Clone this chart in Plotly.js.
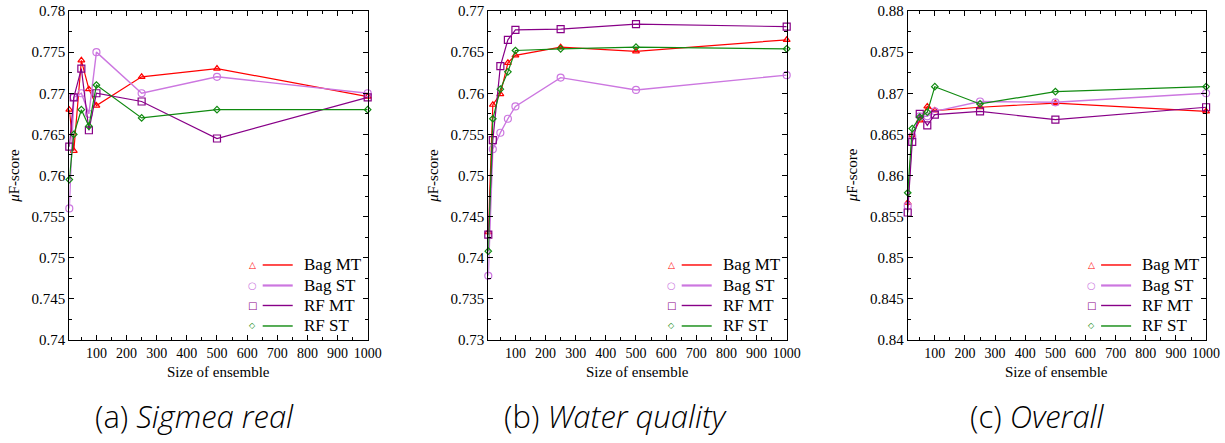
<!DOCTYPE html>
<html>
<head>
<meta charset="utf-8">
<script src="https://cdn.plot.ly/plotly-3.0.1.min.js"></script>
<style>html,body{margin:0;padding:0;background:#fff;}#chart{width:1225px;height:443px;}</style>
</head>
<body>
<div id="chart"></div>
<script>
// ---- data ----
const sizes = [10, 25, 50, 75, 100, 250, 500, 1000];
const seriesNames = ["Bag MT", "Bag ST", "RF MT", "RF ST"];

const sigmeaBagMT = [0.7680, 0.7630, 0.7740, 0.7705, 0.7685, 0.7720, 0.7730, 0.7696];
const sigmeaBagST = [0.7560, 0.7695, 0.7700, 0.7675, 0.7750, 0.7700, 0.7720, 0.7700];
const sigmeaRFMT  = [0.7635, 0.7695, 0.7730, 0.7655, 0.7700, 0.7690, 0.7645, 0.7695];
const sigmeaRFST  = [0.7595, 0.7650, 0.7680, 0.7660, 0.7710, 0.7670, 0.7680, 0.7680];

const waterBagMT = [0.7431, 0.7586, 0.7599, 0.7637, 0.7646, 0.7656, 0.7651, 0.7665];
const waterBagST = [0.7378, 0.7532, 0.7552, 0.7569, 0.7584, 0.7619, 0.7604, 0.7622];
const waterRFMT  = [0.7428, 0.7543, 0.7633, 0.7665, 0.7677, 0.7678, 0.7684, 0.7681];
const waterRFST  = [0.7408, 0.7569, 0.7605, 0.7626, 0.7652, 0.7654, 0.7656, 0.7654];

const overallBagMT = [0.8567, 0.8649, 0.8667, 0.8684, 0.8679, 0.8683, 0.8688, 0.8678];
const overallBagST = [0.8563, 0.8648, 0.8672, 0.8672, 0.8678, 0.8690, 0.8689, 0.8700];
const overallRFMT  = [0.8555, 0.8641, 0.8675, 0.8661, 0.8674, 0.8678, 0.8668, 0.8683];
const overallRFST  = [0.8579, 0.8657, 0.8671, 0.8677, 0.8708, 0.8687, 0.8702, 0.8708];

const yRanges = [[0.74, 0.78], [0.73, 0.77], [0.84, 0.88]];
const captions = ["(a) <i>Sigmea real</i>", "(b) <i>Water quality</i>", "(c) <i>Overall</i>"];
const xTitle = "Size of ensemble";
const yTitle = "<i>μ</i>F-score";

// ---- styles ----
const colors = ["#ff0000", "#cc77e0", "#880088", "#108a10"];
const symbols = ["triangle-up-open", "circle-open", "square-open", "diamond-open"];
const msizes = [6, 7, 7, 5];
const legendGlyphs = ["△", "○", "□", "◇"];
const legendGlyphSize = [9, 10, 10, 8];
const legendLineW = [1.4, 2.2, 1.4, 1.4];

const panels = [
  [sigmeaBagMT, sigmeaBagST, sigmeaRFMT, sigmeaRFST],
  [waterBagMT, waterBagST, waterRFMT, waterRFST],
  [overallBagMT, overallBagST, overallRFMT, overallRFST]
];

const W = 1225, H = 443;
const plotLeft = [69.3, 488.3, 907.7];
const plotW = 298.4;
const plotTop = 11, plotBottom = 340;
const yDom = [1 - plotBottom / H, 1 - plotTop / H];

const serif = "'Liberation Serif', 'Times New Roman', Times, serif";
const sans = "'Open Sans', 'DejaVu Sans', sans-serif";
const traces = [];
const layout = {
  width: W, height: H,
  margin: {l: 0, r: 0, t: 0, b: 0},
  paper_bgcolor: "#fff", plot_bgcolor: "#fff",
  showlegend: false,
  font: {family: serif, size: 14, color: "#000"},
  annotations: [], shapes: []
};

const legendRowY = [0.228, 0.1657, 0.1049, 0.0426];
const capCenters = [194, 615, 1037];

panels.forEach((series, p) => {
  const xa = p === 0 ? "x" : "x" + (p + 1);
  const ya = p === 0 ? "y" : "y" + (p + 1);
  const xk = p === 0 ? "xaxis" : "xaxis" + (p + 1);
  const yk = p === 0 ? "yaxis" : "yaxis" + (p + 1);
  series.forEach((vals, s) => {
    traces.push({
      x: sizes, y: vals, type: "scatter", mode: "lines+markers",
      name: seriesNames[s], xaxis: xa, yaxis: ya, cliponaxis: false,
      line: {color: colors[s], width: s === 1 ? 1.4 : 1.2},
      marker: {symbol: symbols[s], size: msizes[s], color: colors[s], line: {color: colors[s], width: 1.2}}
    });
  });
  layout[xk] = {
    domain: [plotLeft[p] / W, (plotLeft[p] + plotW) / W],
    anchor: ya, range: [10, 1000], tick0: 0, dtick: 100,
    showgrid: false, zeroline: false, showline: true, linecolor: "#000", linewidth: 1,
    mirror: "allticks", ticks: "inside", ticklen: 5, tickcolor: "#000",
    minor: {dtick: 50, ticks: "inside", ticklen: 3, tickcolor: "#000", showgrid: false},
    tickfont: {family: serif, size: 14}, fixedrange: true
  };
  layout[yk] = {
    domain: yDom, anchor: xa, range: yRanges[p], dtick: 0.005, tickformat: ".3~f",
    showgrid: false, zeroline: false, showline: true, linecolor: "#000", linewidth: 1,
    mirror: "allticks", ticks: "inside", ticklen: 5, tickcolor: "#000",
    minor: {dtick: 0.0025, ticks: "inside", ticklen: 3, tickcolor: "#000", showgrid: false},
    tickfont: {family: serif, size: 15}, fixedrange: true
  };
  const xd = xa + " domain", yd = ya + " domain";
  layout.annotations.push({
    xref: xd, yref: "paper", x: 0.5, y: 1 - 372 / H, text: xTitle, showarrow: false,
    font: {family: serif, size: 15}, xanchor: "center", yanchor: "middle"
  });
  layout.annotations.push({
    xref: "paper", yref: yd, x: (plotLeft[p] - 55) / W, y: 0.5, text: yTitle, showarrow: false,
    textangle: -90, font: {family: serif, size: 15}, xanchor: "center", yanchor: "middle"
  });
  layout.annotations.push({
    xref: "paper", yref: "paper", x: capCenters[p] / W, y: 1 - 416 / H, text: captions[p],
    showarrow: false, font: {family: sans, size: 31, color: "#000", weight: 300},
    xanchor: "center", yanchor: "middle"
  });
  seriesNames.forEach((nm, s) => {
    layout.shapes.push({
      type: "line", xref: xd, yref: yd, x0: 0.6481, x1: 0.7487, y0: legendRowY[s], y1: legendRowY[s],
      line: {color: colors[s], width: legendLineW[s]}
    });
    layout.annotations.push({
      xref: xd, yref: yd, x: 0.6146, y: legendRowY[s], text: legendGlyphs[s], showarrow: false,
      font: {family: "'DejaVu Sans', sans-serif", size: legendGlyphSize[s], color: colors[s]},
      xanchor: "center", yanchor: "middle"
    });
    layout.annotations.push({
      xref: xd, yref: yd, x: 0.7786, y: legendRowY[s], text: nm, showarrow: false,
      font: {family: serif, size: 17}, xanchor: "left", yanchor: "middle"
    });
  });
});

Plotly.newPlot("chart", traces, layout, {staticPlot: true, displayModeBar: false});
</script>
</body>
</html>
